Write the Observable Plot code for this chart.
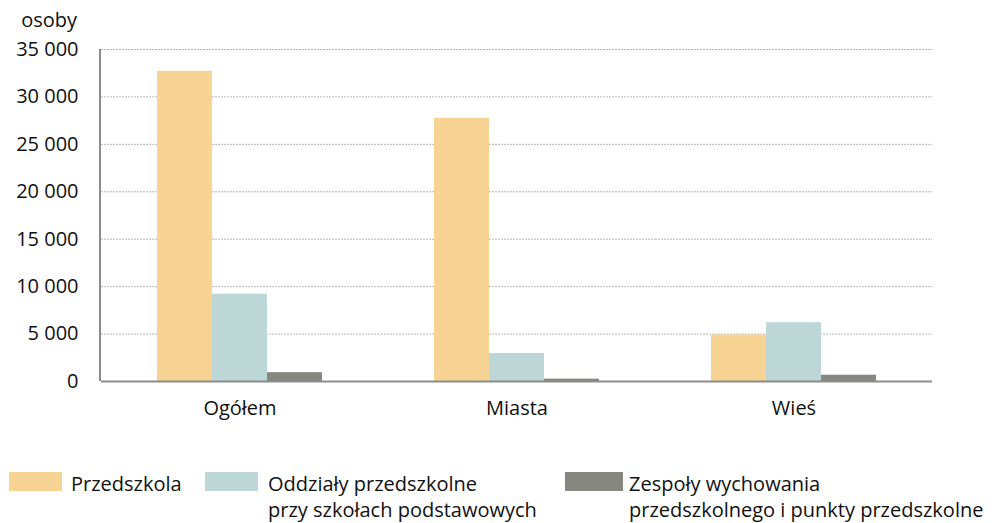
<!DOCTYPE html>
<html>
<head>
<meta charset="utf-8">
<script src="https://cdn.jsdelivr.net/npm/d3@7"></script>
<script src="https://cdn.jsdelivr.net/npm/@observablehq/plot@0.6"></script>
<style>
  html, body { margin: 0; padding: 0; background: #fff; }
  body { width: 1000px; height: 523px; position: relative; overflow: hidden; font-family: "Open Sans", sans-serif; color: #111; }
  #unit { position: absolute; left: 0; width: 77px; top: 6px; text-align: right; font-size: 20px; line-height: 28px; }
  #chart { position: absolute; left: 0; top: 0; }
  .leg { position: absolute; font-size: 20px; line-height: 26px; white-space: nowrap; }
  .sw { position: absolute; }
</style>
</head>
<body>
<div id="unit">osoby</div>
<div id="chart"></div>
<div id="legend"></div>
<script>
const categories = ["Ogółem", "Miasta", "Wieś"];
const series = ["Przedszkola", "Oddziały przedszkolne przy szkołach podstawowych", "Zespoły wychowania przedszkolnego i punkty przedszkolne"];
const legendLines = [["Przedszkola"], ["Oddziały przedszkolne", "przy szkołach podstawowych"], ["Zespoły wychowania", "przedszkolnego i punkty przedszkolne"]];
const colors = ["#F7D394", "#BCD7D5", "#868781"];
const przedszkola = [32700, 27750, 4900];
const oddzialy = [9200, 2950, 6200];
const zespoly = [930, 250, 660];
const yTicks = [0, 5000, 10000, 15000, 20000, 25000, 30000, 35000];

const valuesBySeries = [przedszkola, oddzialy, zespoly];
const data = [];
categories.forEach((c, i) => series.forEach((s, j) => data.push({category: c, series: s, value: valuesBySeries[j][i]})));

const fmt = d => d3.format(",")(d).replace(/,/g, " ");

const chart = Plot.plot({
  width: 1000,
  height: 430,
  marginTop: 49,
  marginBottom: 49,
  marginLeft: 100,
  marginRight: 67,
  style: {fontFamily: "Open Sans, sans-serif", fontSize: "20px", color: "#111", background: "transparent"},
  fx: {domain: categories, padding: 0, label: null, tickSize: 0, tickPadding: 19, axis: "bottom"},
  x: {domain: series, paddingInner: 0, paddingOuter: 1, axis: null},
  y: {domain: [0, 35000], ticks: yTicks, tickFormat: fmt, tickSize: 0, tickPadding: 23, label: null},
  color: {domain: series, range: colors},
  marks: [
    Plot.ruleY(yTicks.filter(d => d > 0), {stroke: "#b8b8b8", strokeWidth: 1, strokeDasharray: "2,1"}),
    Plot.barY(data, {fx: "category", x: "series", y: "value", fill: "series"}),
    Plot.ruleY([0], {stroke: "#8c8c8c", strokeWidth: 2})
  ]
});
document.getElementById("chart").appendChild(chart);

// left axis line, positioned with the chart's own y scale
const ys = chart.scale("y");
const svg = d3.select(chart);
svg.append("line")
  .attr("x1", 100).attr("x2", 100)
  .attr("y1", ys.apply(35000)).attr("y2", ys.apply(0))
  .attr("stroke", "#8c8c8c").attr("stroke-width", 2);

const legendPos = [
  {sx: 9, sw: 53, tx: 71},
  {sx: 205, sw: 53, tx: 268},
  {sx: 565, sw: 58, tx: 629}
];
const leg = document.getElementById("legend");
legendLines.forEach((lines, i) => {
  const sw = document.createElement("div");
  sw.className = "sw";
  sw.style.left = legendPos[i].sx + "px";
  sw.style.top = "472px";
  sw.style.width = legendPos[i].sw + "px";
  sw.style.height = "19px";
  sw.style.background = colors[i];
  leg.appendChild(sw);
  const t = document.createElement("div");
  t.className = "leg";
  t.style.left = legendPos[i].tx + "px";
  t.style.top = "471px";
  t.innerHTML = lines.join("<br>");
  leg.appendChild(t);
});
</script>
</body>
</html>
